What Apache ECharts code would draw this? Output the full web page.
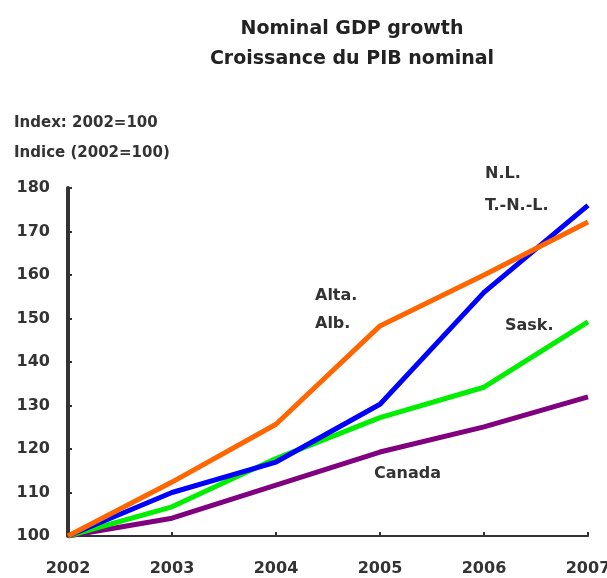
<!DOCTYPE html>
<html><head><meta charset="utf-8">
<script src="https://cdn.jsdelivr.net/npm/echarts@6/dist/echarts.min.js"></script>
<style>html,body{margin:0;padding:0;background:#fff}#c{width:607px;height:578px}</style>
</head><body><div id="c"></div>
<script>
const years = ['2002','2003','2004','2005','2006','2007'];
const alberta = [100, 112.4, 125.7, 148.3, 160, 172.2];
const newfoundland = [100, 110, 117, 130.3, 156, 176];
const saskatchewan = [100, 106.7, 117.8, 127.2, 134.2, 149.2];
const canada = [100, 104.1, 111.7, 119.3, 125.1, 132];
const yTicks = [100, 180, 10];

const font = '"DejaVu Sans", sans-serif';
const txt = (x, y, t, size) => ({type:'text', left:x, top:y, style:{text:t, font:'bold '+(size||15)+'px '+font, fill:'#333'}});

const chart = echarts.init(document.getElementById('c'));
const line = (name, data, color) => ({name, type:'line', data, symbol:'none', lineStyle:{color, width:5}, itemStyle:{color}});
chart.setOption({
  animation:false,
  title:{text:'Nominal GDP growth\nCroissance du PIB nominal', left:347, textAlign:'center', top:9,
    textStyle:{fontFamily:font, fontSize:19, fontWeight:'bold', color:'#222', lineHeight:30}},
  grid:{left:68, right:19, top:188, bottom:42, outerBoundsMode:'none', containLabel:false},
  xAxis:{type:'category', data:years, boundaryGap:false,
    axisLine:{lineStyle:{color:'#333', width:2}},
    axisTick:{inside:true, length:4, lineStyle:{color:'#333', width:2}},
    axisLabel:{fontFamily:font, fontSize:16, fontWeight:'bold', color:'#333', margin:25, hideOverlap:false}},
  yAxis:{type:'value', min:yTicks[0], max:yTicks[1], interval:yTicks[2],
    splitLine:{show:false},
    axisLine:{show:true, lineStyle:{color:'#333', width:4}},
    axisTick:{show:true, inside:true, length:4, lineStyle:{color:'#333', width:2}},
    axisLabel:{fontFamily:font, fontSize:16, fontWeight:'bold', color:'#333', margin:18}},
  graphic:[
    txt(14, 116, 'Index: 2002=100', 15),
    txt(14, 146, 'Indice (2002=100)', 15),
    txt(485, 166, 'N.L.', 16),
    txt(485, 198, 'T.-N.-L.', 16),
    txt(315, 288, 'Alta.', 16),
    txt(315, 316, 'Alb.', 16),
    txt(505, 318, 'Sask.', 16),
    txt(374, 466, 'Canada', 16)
  ],
  series:[
    line('Canada', canada, '#800080'),
    line('Sask.', saskatchewan, '#00ee00'),
    line('N.L.', newfoundland, '#0000ff'),
    line('Alta.', alberta, '#ff6600')
  ]
});
</script></body></html>
